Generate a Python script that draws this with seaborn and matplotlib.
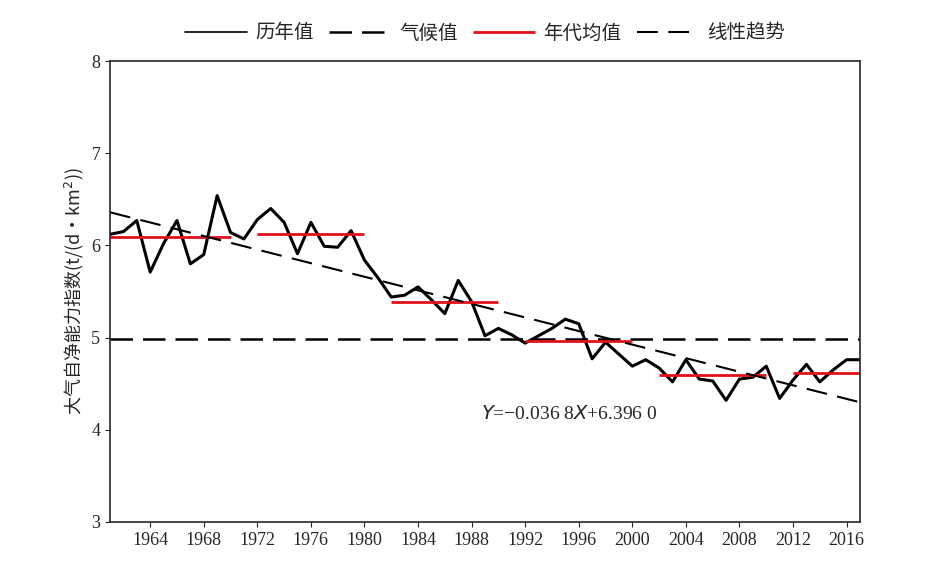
import matplotlib
matplotlib.use('Agg')
import matplotlib.pyplot as plt
import seaborn as sns
import numpy as np
import pandas as pd

sns.set_style('ticks')
plt.rcParams['font.family'] = ['Liberation Serif', 'Noto Sans CJK SC']

years = list(range(1961, 2018))
values = [6.12, 6.15, 6.27, 5.71, 6.02, 6.27, 5.80, 5.90, 6.54, 6.14,
          6.07, 6.28, 6.40, 6.25, 5.91, 6.25, 5.99, 5.98, 6.16, 5.84,
          5.65, 5.44, 5.46, 5.55, 5.41, 5.26, 5.62, 5.39, 5.02, 5.10,
          5.03, 4.94, 5.02, 5.10, 5.20, 5.15, 4.77, 4.95, 4.82, 4.69,
          4.76, 4.67, 4.52, 4.76, 4.55, 4.53, 4.32, 4.55, 4.57, 4.69,
          4.34, 4.54, 4.71, 4.52, 4.65, 4.76, 4.76]
climate = 4.99
decade_start = [1961, 1972, 1982, 1992, 2002, 2012]
decade_end = [1970, 1980, 1990, 2000, 2010, 2017]
decade_mean = [6.09, 6.12, 5.39, 4.96, 4.59, 4.62]
slope, intercept = -0.0368, 6.3960

df = pd.DataFrame({'year': years, 'value': values})
idx = np.arange(1, len(years) + 1)
trend = intercept + slope * idx

fig = plt.figure(figsize=(9.31, 5.76), dpi=100)
ax = fig.add_axes([110 / 931, 1 - 522 / 576, 750 / 931, 461 / 576])

sns.lineplot(data=df, x='year', y='value', ax=ax, color='black', lw=2.2, label='历年值')
ax.axhline(climate, color='black', lw=1.8, dashes=(9, 4), label='气候值')
for i, (s, e, m) in enumerate(zip(decade_start, decade_end, decade_mean)):
    ax.hlines(m, s, e, color='#e3101a', lw=2, label='年代均值' if i == 0 else None)
ax.plot(years, trend, color='black', lw=1.5, dashes=(10, 5), label='线性趋势')

ax.set_xlim(1961, 2017)
ax.set_ylim(3, 8)
ax.set_xticks(range(1964, 2017, 4))
ax.set_yticks(range(3, 9))
ax.tick_params(labelsize=13, direction='out')
ax.set_xlabel('')
ax.set_ylabel('大气自净能力指数(t/(d·km$^2$))', fontsize=13,
              family=['Noto Sans CJK SC', 'DejaVu Sans'])
for sp in ax.spines.values():
    sp.set_linewidth(1.2)

ax.text(1988.7, 4.12, '$Y$=−0.036 8$X$+6.396 0', fontsize=14, ha='left')

leg = ax.legend(loc='lower center', bbox_to_anchor=(0.5, 1.0), ncol=4, frameon=False,
                prop={'family': 'Noto Sans CJK SC', 'size': 14},
                handlelength=3.2, columnspacing=0.8, handletextpad=0.4)
leg.get_lines()[0].set_linewidth(1.2)

fig.savefig('out.png', dpi=100)
